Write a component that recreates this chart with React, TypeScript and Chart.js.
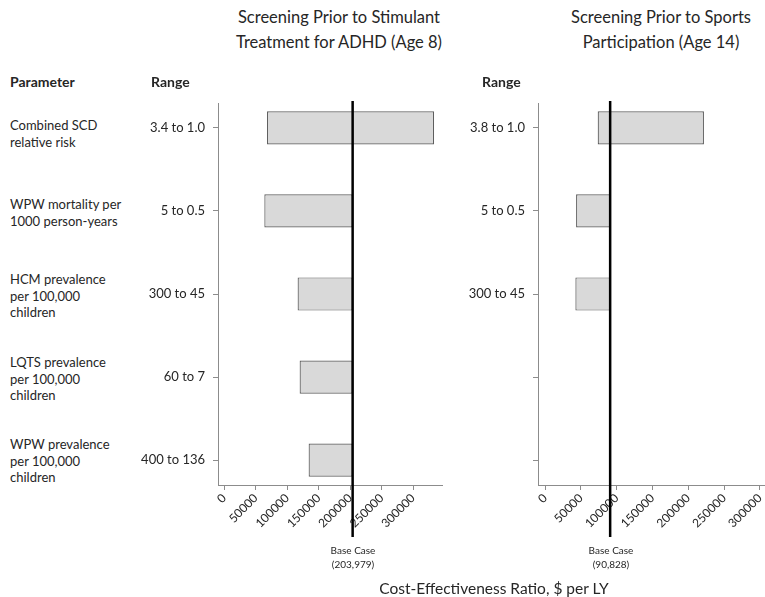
import React, { useEffect, useRef } from 'react';
import { Chart, registerables } from 'chart.js';
Chart.register(...registerables);

const parameterLabels: string[][] = [
  ['Combined SCD', 'relative risk'],
  ['WPW mortality per', '1000 person-years'],
  ['HCM prevalence', 'per 100,000', 'children'],
  ['LQTS prevalence', 'per 100,000', 'children'],
  ['WPW prevalence', 'per 100,000', 'children'],
];
const rowIndex = [0, 1, 2, 3, 4];
const xTickValues = [0, 50000, 100000, 150000, 200000, 250000, 300000];
const adhdRanges = ['3.4 to 1.0', '5 to 0.5', '300 to 45', '60 to 7', '400 to 136'];
const adhdLow = [67900, 63600, 116500, 119700, 134000];
const adhdHigh = [333400, 203979, 203979, 203979, 203979];
const adhdBase = 203979;
const sportsRanges = ['3.8 to 1.0', '5 to 0.5', '300 to 45', '', ''];
const sportsLow = [73400, 43200, 42200];
const sportsHigh = [221900, 90828, 90828];
const sportsBase = 90828;

const FONT = 'Lato, "Open Sans", sans-serif';
const TEXT = '#262626';
const AXIS = '#8c8c8c';

type Cfg = {
  ranges: string[];
  low: number[];
  high: number[];
  base: number;
  min: number;
  max: number;
  yWidth: number;
  padRight: number;
};

function makeChart(canvas: HTMLCanvasElement, c: Cfg) {
  const baseLine = {
    id: 'baseLine',
    afterDatasetsDraw(chart: any) {
      const ctx = chart.ctx;
      const x = chart.scales.x.getPixelForValue(c.base);
      ctx.save();
      ctx.strokeStyle = '#000';
      ctx.lineWidth = 2.5;
      ctx.beginPath();
      ctx.moveTo(x, chart.chartArea.top - 2);
      ctx.lineTo(x, chart.chartArea.bottom + 52);
      ctx.stroke();
      ctx.restore();
    },
  };
  return new Chart(canvas, {
    type: 'bar',
    data: {
      datasets: [
        {
          data: c.low.map((l, i) => ({ x: [l, c.high[i]], y: rowIndex[i] })) as any,
          backgroundColor: '#d9d9d9',
          borderColor: '#5e5e5e',
          borderWidth: 1.2,
          borderSkipped: false,
          barPercentage: 0.4,
          categoryPercentage: 1,
        },
      ],
    },
    options: {
      indexAxis: 'y',
      animation: false,
      responsive: false,
      maintainAspectRatio: false,
      layout: { padding: { top: 13, right: c.padRight, left: 0, bottom: 0 } },
      plugins: { legend: { display: false }, tooltip: { enabled: false } },
      scales: {
        x: {
          type: 'linear',
          min: c.min,
          max: c.max,
          afterBuildTicks: (s: any) => {
            s.ticks = xTickValues.map((v) => ({ value: v }));
          },
          afterFit: (s: any) => {
            s.height = 65;
            s.paddingLeft = 0;
            s.paddingRight = 0;
          },
          ticks: {
            autoSkip: false,
            minRotation: 45,
            maxRotation: 45,
            padding: 1,
            color: TEXT,
            font: { family: FONT, size: 12 },
            callback: (v: any) => String(v),
          },
          grid: { drawOnChartArea: false, tickLength: 5, color: AXIS },
          border: { color: AXIS, width: 1 },
        },
        y: {
          type: 'linear',
          reverse: true,
          min: -0.3,
          max: 4.3,
          offset: false,
          afterBuildTicks: (s: any) => {
            s.ticks = rowIndex.map((v) => ({ value: v }));
          },
          afterFit: (s: any) => {
            s.width = c.yWidth;
            s.paddingTop = 0;
            s.paddingBottom = 0;
          },
          ticks: {
            autoSkip: false,
            padding: 8,
            color: TEXT,
            font: { family: FONT, size: 13 },
            callback: (v: any) => c.ranges[Math.round(Number(v))] ?? '',
          },
          grid: { offset: false, drawOnChartArea: false, tickLength: 5, color: AXIS },
          border: { color: AXIS, width: 1 },
        },
      },
    } as any,
    plugins: [baseLine],
  });
}

const abs = (s: React.CSSProperties): React.CSSProperties => ({ position: 'absolute', whiteSpace: 'nowrap', ...s });

export default function App() {
  const leftRef = useRef<HTMLCanvasElement>(null);
  const rightRef = useRef<HTMLCanvasElement>(null);

  useEffect(() => {
    const a = makeChart(leftRef.current!, {
      ranges: adhdRanges,
      low: adhdLow,
      high: adhdHigh,
      base: adhdBase,
      min: -10000,
      max: 346000,
      yWidth: 88,
      padRight: 18,
    });
    const b = makeChart(rightRef.current!, {
      ranges: sportsRanges,
      low: sportsLow,
      high: sportsHigh,
      base: sportsBase,
      min: -10000,
      max: 310000,
      yWidth: 78,
      padRight: 13,
    });
    return () => {
      a.destroy();
      b.destroy();
    };
  }, []);

  const paramTops = [117, 196, 271, 354, 436];

  return (
    <div
      style={{
        position: 'fixed',
        left: 0,
        top: 0,
        width: 765,
        height: 597,
        overflow: 'hidden',
        background: '#fff',
        fontFamily: FONT,
        color: TEXT,
      }}
    >
      <canvas ref={leftRef} width={330} height={460} style={{ position: 'absolute', left: 130, top: 90, width: 330, height: 460 }} />
      <canvas ref={rightRef} width={320} height={460} style={{ position: 'absolute', left: 460, top: 90, width: 320, height: 460 }} />

      <div style={abs({ left: 339, top: 5, transform: 'translateX(-50%)', fontSize: 16.5, lineHeight: '25px', textAlign: 'center' })}>
        Screening Prior to Stimulant
        <br />
        Treatment for ADHD (Age 8)
      </div>
      <div style={abs({ left: 661, top: 5, transform: 'translateX(-50%)', fontSize: 16.5, lineHeight: '25px', textAlign: 'center' })}>
        Screening Prior to Sports
        <br />
        Participation (Age 14)
      </div>

      <div style={abs({ left: 10, top: 73, fontSize: 14, fontWeight: 'bold', lineHeight: '18px' })}>Parameter</div>
      <div style={abs({ left: 151, top: 73, fontSize: 14, fontWeight: 'bold', lineHeight: '18px' })}>Range</div>
      <div style={abs({ left: 482, top: 73, fontSize: 14, fontWeight: 'bold', lineHeight: '18px' })}>Range</div>

      {parameterLabels.map((lines, i) => (
        <div key={i} style={abs({ left: 10, top: paramTops[i], fontSize: 13, lineHeight: '16.5px' })}>
          {lines.map((l, j) => (
            <div key={j}>{l}</div>
          ))}
        </div>
      ))}

      <div style={abs({ left: 353, top: 543, transform: 'translateX(-50%)', fontSize: 10, lineHeight: '14px', textAlign: 'center' })}>
        Base Case
        <br />
        (203,979)
      </div>
      <div style={abs({ left: 611, top: 543, transform: 'translateX(-50%)', fontSize: 10, lineHeight: '14px', textAlign: 'center' })}>
        Base Case
        <br />
        (90,828)
      </div>

      <div style={abs({ left: 494, top: 578, transform: 'translateX(-50%)', fontSize: 15.5, lineHeight: '20px' })}>
        Cost-Effectiveness Ratio, $ per LY
      </div>
    </div>
  );
}
